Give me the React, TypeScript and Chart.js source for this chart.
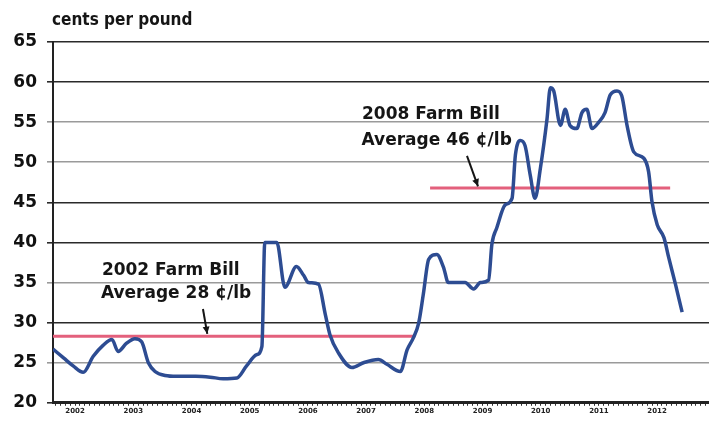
import { useEffect, useRef } from 'react';
import { Chart, registerables } from 'chart.js';

Chart.register(...registerables);

// months since January 2002 (month 6 = middle of 2002)
const months = [
  1.44, 3.61, 5.59, 7.66, 9.74, 11.81, 13.59, 14.87, 16.55, 18.33, 19.72, 21.10, 22.48, 24.56, 26.93,
  30.88, 33.84, 36.51, 39.38, 41.35, 43.43, 44.51, 45.11, 47.58, 49.26, 51.63, 53.11, 54.10, 56.17,
  57.56, 58.54, 60.32, 63.09, 65.46, 68.52, 70.30, 73.07, 74.45, 75.74, 76.82, 77.81, 78.90, 80.58,
  81.96, 82.95, 86.41, 88.18, 89.57, 91.25, 91.94, 92.93, 94.70, 96.09, 96.78, 97.77, 98.76, 99.84,
  100.83, 101.92, 103.30, 103.99, 104.68, 106.07, 107.05, 108.04, 109.43, 110.51, 111.50, 112.59,
  113.97, 115.26, 116.34, 117.73, 118.71, 119.80, 121.18, 123.26, 124.25, 124.94, 126.02, 127.41,
  128.40, 129.78, 131.16,
];
// price, cents per pound
const cents = [
  26.7, 25.6, 24.6, 23.8, 25.8, 27.2, 27.9, 26.4, 27.4, 28.0, 27.6, 25.0, 23.9, 23.4, 23.3,
  23.3, 23.2, 23.0, 23.1, 24.6, 26.0, 27.0, 40.0, 40.0, 34.4, 37.0, 35.9, 35.0, 34.8,
  31.1, 28.5, 26.2, 24.4, 25.0, 25.4, 24.8, 23.9, 26.6, 28.1, 29.9, 33.6, 37.9, 38.5,
  36.9, 35.0, 35.0, 34.2, 35.0, 35.3, 39.8, 41.8, 44.7, 45.5, 50.9, 52.7, 52.1, 48.4,
  45.5, 49.2, 55.4, 59.3, 58.9, 54.6, 56.6, 54.6, 54.2, 56.2, 56.6, 54.2,
  55.0, 56.2, 58.4, 58.9, 58.3, 54.6, 51.3, 50.5, 48.8, 45.1, 42.2, 40.6,
  38.1, 34.8, 31.3,
];

const yearLabels = ['2002', '2003', '2004', '2005', '2006', '2007', '2008', '2009', '2010', '2011', '2012'];
const yTickValues = [20, 25, 30, 35, 40, 45, 50, 55, 60, 65];
const darkGridValues = [20, 30, 40, 45, 60, 65];

// Farm bill averages
const billStartMonth = [1.44, 79.19];
const billEndMonth = [76.13, 128.69];
const billAverage = [28.3, 46.8];

// annotation texts
const noteText = ['2002 Farm Bill', 'Average 28 ¢/lb', '2008 Farm Bill', 'Average 46 ¢/lb'];
const noteMonth = [11.52, 11.32, 65.16, 65.06];
const noteValue = [36.0, 33.1, 55.4, 52.2];
const arrowFromMonth = [32.36, 86.8];
const arrowFromValue = [31.7, 50.8];
const arrowToMonth = [33.25, 89.07];
const arrowToValue = [28.6, 47.0];

const titleText = 'cents per pound';

const notesPlugin = {
  id: 'notes',
  afterDatasetsDraw(chart: any) {
    const { ctx } = chart;
    const x = chart.scales.x;
    const y = chart.scales.y;
    ctx.save();
    ctx.fillStyle = '#151515';
    ctx.font = 'bold 17px "DejaVu Sans"';
    ctx.textAlign = 'left';
    ctx.textBaseline = 'alphabetic';
    noteText.forEach((t, i) => {
      ctx.fillText(t, x.getPixelForValue(noteMonth[i]), y.getPixelForValue(noteValue[i]));
    });
    ctx.strokeStyle = '#151515';
    ctx.lineWidth = 2;
    arrowFromMonth.forEach((_, i) => {
      const x1 = x.getPixelForValue(arrowFromMonth[i]);
      const y1 = y.getPixelForValue(arrowFromValue[i]);
      const x2 = x.getPixelForValue(arrowToMonth[i]);
      const y2 = y.getPixelForValue(arrowToValue[i]);
      ctx.beginPath();
      ctx.moveTo(x1, y1);
      ctx.lineTo(x2, y2);
      ctx.stroke();
      const ang = Math.atan2(y2 - y1, x2 - x1);
      const hl = 8;
      ctx.beginPath();
      ctx.moveTo(x2, y2);
      ctx.lineTo(x2 - hl * Math.cos(ang - 0.45), y2 - hl * Math.sin(ang - 0.45));
      ctx.lineTo(x2 - hl * Math.cos(ang + 0.45), y2 - hl * Math.sin(ang + 0.45));
      ctx.closePath();
      ctx.fillStyle = '#151515';
      ctx.fill();
    });
    ctx.font = 'bold 17px "DejaVu Sans Condensed", "DejaVu Sans"';
    ctx.fillText(titleText, chart.chartArea.left - 1, 25);
    ctx.restore();
  },
};

export default function App() {
  const ref = useRef<HTMLCanvasElement>(null);
  useEffect(() => {
    document.body.style.margin = '0';
    const priceData = months.map((m, i) => ({ x: m, y: cents[i] }));
    const billSets = billAverage.map((avg, i) => ({
      label: 'bill' + i,
      data: [
        { x: billStartMonth[i], y: avg },
        { x: billEndMonth[i], y: avg },
      ],
      borderColor: '#e3607c',
      borderWidth: 3,
      pointRadius: 0,
      fill: false,
    }));
    const chart = new Chart(ref.current!, {
      type: 'line',
      data: {
        datasets: [
          {
            label: 'price',
            data: priceData,
            borderColor: '#2d4c92',
            borderWidth: 3.5,
            pointRadius: 0,
            tension: 0.2,
            cubicInterpolationMode: 'monotone',
            fill: false,
          },
          ...billSets,
        ],
      },
      options: {
        animation: false,
        responsive: true,
        maintainAspectRatio: false,
        layout: { padding: { top: 42, right: 0, left: 0, bottom: 0 } },
        plugins: { legend: { display: false }, tooltip: { enabled: false }, title: { display: false } },
        scales: {
          x: {
            type: 'linear',
            min: 1.44,
            max: 136.7,
            afterBuildTicks: (scale: any) => {
              const t = [];
              for (let k = 2; k <= 136; k++) t.push({ value: k });
              scale.ticks = t;
            },
            afterFit: (scale: any) => {
              scale.height = 16;
            },
            ticks: {
              autoSkip: false,
              maxRotation: 0,
              minRotation: 0,
              padding: 1,
              color: '#222',
              font: { family: '"DejaVu Sans"', size: 7, weight: 'bold' },
              callback: (v: any) => {
                const k = Math.round(Number(v));
                return k % 12 === 6 ? yearLabels[(k - 6) / 12] ?? '' : '';
              },
            },
            grid: { drawOnChartArea: false, tickLength: 3, color: '#333', lineWidth: 1 },
            border: { color: '#222', width: 3 },
          },
          y: {
            min: 20,
            max: 65,
            afterBuildTicks: (scale: any) => {
              scale.ticks = yTickValues.map((v) => ({ value: v }));
            },
            afterFit: (scale: any) => {
              scale.width = 53;
            },
            ticks: {
              padding: 10,
              color: '#111',
              font: { family: '"DejaVu Sans"', size: 17, weight: 'bold' },
            },
            grid: {
              tickLength: 6,
              lineWidth: 1.6,
              color: (c: any) => (darkGridValues.includes(c.tick?.value) ? '#2a2a2a' : '#9a9a9a'),
            },
            border: { color: '#222', width: 2 },
          },
        },
      },
      plugins: [notesPlugin],
    } as any);
    return () => chart.destroy();
  }, []);
  return (
    <div style={{ width: 709, height: 423, position: 'relative', background: '#fff' }}>
      <canvas ref={ref} />
    </div>
  );
}
